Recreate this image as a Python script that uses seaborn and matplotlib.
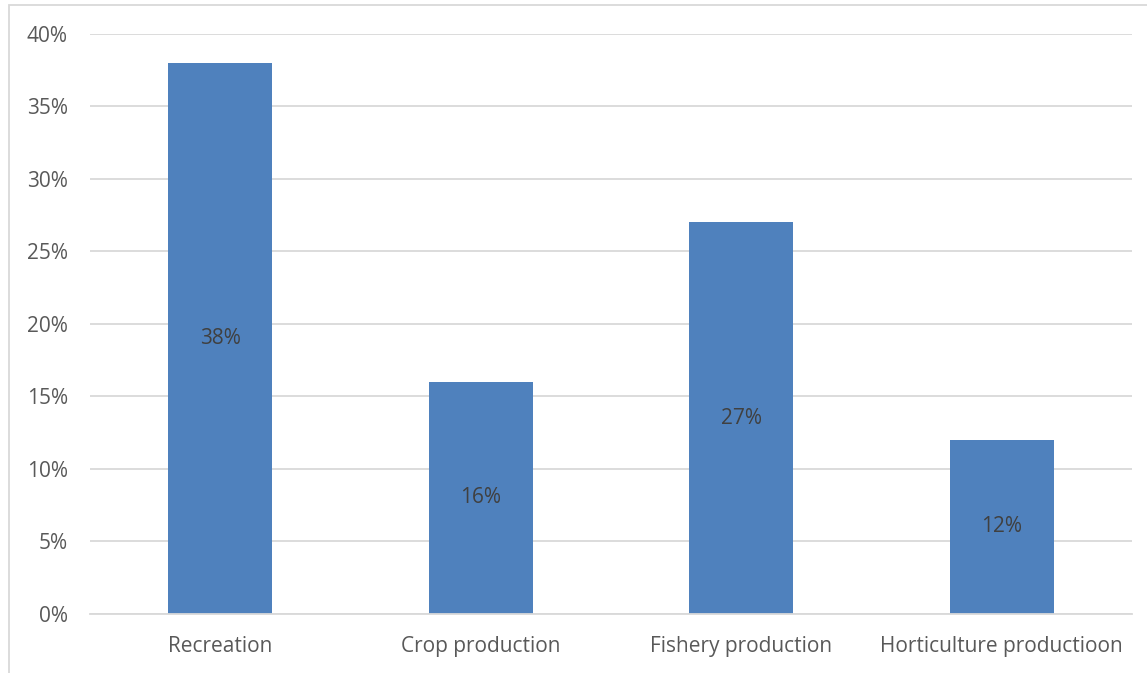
import matplotlib.pyplot as plt
import matplotlib.patches as mpatches
from matplotlib.ticker import FuncFormatter
import seaborn as sns
import pandas as pd

categories = ["Recreation", "Crop production", "Fishery production", "Horticulture productioon"]
shares = [38, 16, 27, 12]

df = pd.DataFrame({"Category": categories, "Share": shares})

sns.set_style("white")
plt.rcParams["font.family"] = ["Open Sans", "DejaVu Sans"]

fig = plt.figure(figsize=(11.47, 6.73), dpi=100)
ax = fig.add_axes([90 / 1147, 59 / 673, 1042 / 1147, 580.5 / 673])

sns.barplot(data=df, x="Category", y="Share", color="#4F81BD",
            saturation=1, width=0.4, linewidth=0, ax=ax)

for i, v in enumerate(shares):
    ax.text(i, v / 2, f"{v}%", ha="center", va="center",
            fontsize=15, color="#404040")

ax.set_ylim(0, 40)
ax.set_xlim(-0.5, 3.5)
ax.set_yticks(range(0, 41, 5))
ax.yaxis.set_major_formatter(FuncFormatter(lambda v, p: f"{v:.0f}%"))
ax.yaxis.grid(True, color="#D9D9D9", linewidth=1.3)
ax.set_axisbelow(True)
for s in ax.spines.values():
    s.set_visible(False)
ax.spines["bottom"].set_visible(True)
ax.spines["bottom"].set_color("#D9D9D9")
ax.spines["bottom"].set_linewidth(1.3)
ax.tick_params(axis="both", length=0, labelsize=15, labelcolor="#595959")
ax.tick_params(axis="x", pad=16)
ax.tick_params(axis="y", pad=16)
ax.set_xlabel("")
ax.set_ylabel("")

# chart area border (clipped at right/bottom)
fig.patches.append(mpatches.Rectangle((8.5 / 1147, -0.05), 1.2, 1 - 5 / 673 + 0.05,
                                      transform=fig.transFigure, fill=False,
                                      edgecolor="#D9D9D9", linewidth=1.3))

fig.savefig("out.png", dpi=100)
